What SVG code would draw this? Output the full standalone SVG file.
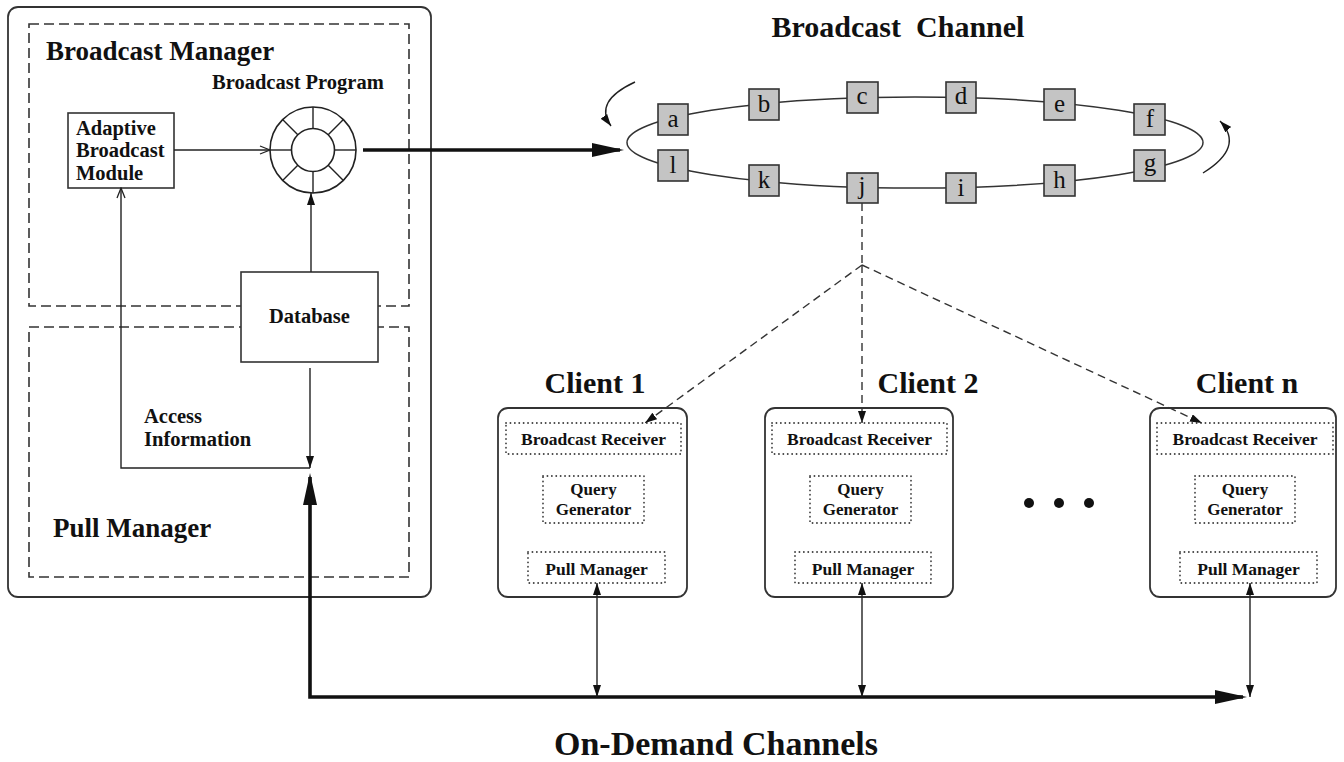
<svg xmlns="http://www.w3.org/2000/svg" width="1344" height="762" viewBox="0 0 1344 762">
  <style>
    text { font-family: "Liberation Serif", "Times New Roman", serif; font-weight: bold; fill: #111; }
    .title { font-size: 30px; }
    .big { font-size: 27px; }
    .mid { font-size: 20.5px; }
    .small { font-size: 17.5px; }
    .qg { font-size: 17px; }
    .item { font-size: 25px; font-weight: normal; text-anchor: middle; }
    .c { text-anchor: middle; }
    .frame { fill: #fff; stroke: #333; stroke-width: 1.8; }
    .dash { fill: none; stroke: #333; stroke-width: 1.6; stroke-dasharray: 10 5; }
    .dot { fill: none; stroke: #444; stroke-width: 1.8; stroke-dasharray: 0.1 4.3; stroke-linecap: round; }
    .box { fill: #fff; stroke: #333; stroke-width: 1.6; }
    .cell { fill: #c4c4c4; stroke: #333; stroke-width: 1.6; }
    .wire { fill: none; stroke: #222; stroke-width: 1.4; }
    .thick { fill: none; stroke: #111; stroke-width: 3.6; }
    .dashed { fill: none; stroke: #333; stroke-width: 1.4; stroke-dasharray: 8 5; }
  </style>
  <defs>
    <marker id="openHead" markerUnits="userSpaceOnUse" markerWidth="12" markerHeight="10" refX="11" refY="5" orient="auto">
      <path d="M1,1 L11,5 L1,9" fill="none" stroke="#222" stroke-width="1.3"/>
    </marker>
    <marker id="smallHead" markerUnits="userSpaceOnUse" markerWidth="12" markerHeight="8" refX="12" refY="4" orient="auto-start-reverse">
      <path d="M0,0 L12,4 L0,8 Z" fill="#111"/>
    </marker>
    <marker id="bigHead" markerUnits="userSpaceOnUse" markerWidth="32" markerHeight="14" refX="28" refY="7" orient="auto-start-reverse">
      <path d="M0,0 L32,7 L0,14 Z" fill="#111"/>
    </marker>
  </defs>

  <rect width="1344" height="762" fill="#fff"/>

  <!-- server side -->
  <g id="server">
    <rect class="frame" x="8" y="7" width="423" height="590" rx="10"/>
  </g>
  <g id="broadcast-manager">
    <rect class="dash" x="29" y="24" width="380" height="282"/>
    <text class="big" x="46" y="60">Broadcast Manager</text>
  </g>
  <g id="pull-manager">
    <rect class="dash" x="29" y="327" width="380" height="250"/>
    <text class="big" x="53" y="537">Pull Manager</text>
  </g>
  <g id="adaptive-module">
    <rect class="box" x="68" y="113" width="106" height="75"/>
    <text class="mid" x="76" y="135">Adaptive</text>
    <text class="mid" x="76" y="157">Broadcast</text>
    <text class="mid" x="76" y="180">Module</text>
  </g>
  <g id="broadcast-program">
    <text class="mid" x="212" y="89">Broadcast Program</text>
    <circle cx="313" cy="150" r="43" fill="#fff" stroke="#222" stroke-width="1.6"/>
    <circle cx="313" cy="150" r="21.5" fill="none" stroke="#222" stroke-width="1.6"/>
    <g stroke="#222" stroke-width="1.4">
      <line x1="334.5" y1="150" x2="356" y2="150"/>
      <line x1="291.5" y1="150" x2="270" y2="150"/>
      <line x1="313" y1="128.5" x2="313" y2="107"/>
      <line x1="313" y1="171.5" x2="313" y2="193"/>
      <line x1="328.2" y1="134.8" x2="343.4" y2="119.6"/>
      <line x1="297.8" y1="134.8" x2="282.6" y2="119.6"/>
      <line x1="328.2" y1="165.2" x2="343.4" y2="180.4"/>
      <line x1="297.8" y1="165.2" x2="282.6" y2="180.4"/>
    </g>
  </g>
  <g id="database">
    <rect class="box" x="241" y="272" width="137" height="90"/>
    <text class="mid c" x="309.5" y="323">Database</text>
  </g>
  <g id="access-label">
    <text class="mid" x="144" y="423">Access</text>
    <text class="mid" x="144" y="446">Information</text>
  </g>

  <!-- broadcast channel ring -->
  <g id="broadcast-channel">
    <text class="title c" x="898" y="37" xml:space="preserve">Broadcast  Channel</text>
    <ellipse cx="915" cy="142.5" rx="288" ry="45.5" fill="none" stroke="#333" stroke-width="1.5"/>
    <g id="item-a"><rect class="cell" x="658" y="104" width="30" height="31"/><text class="item" x="673" y="127">a</text></g>
    <g id="item-b"><rect class="cell" x="749" y="89" width="30" height="31"/><text class="item" x="764" y="112">b</text></g>
    <g id="item-c"><rect class="cell" x="847" y="82" width="31" height="31"/><text class="item" x="862" y="104">c</text></g>
    <g id="item-d"><rect class="cell" x="946" y="82" width="30" height="31"/><text class="item" x="961" y="104">d</text></g>
    <g id="item-e"><rect class="cell" x="1044" y="89" width="31" height="31"/><text class="item" x="1059.5" y="112">e</text></g>
    <g id="item-f"><rect class="cell" x="1134" y="104" width="31" height="31"/><text class="item" x="1150" y="127">f</text></g>
    <g id="item-g"><rect class="cell" x="1134" y="150" width="31" height="31"/><text class="item" x="1150" y="171">g</text></g>
    <g id="item-h"><rect class="cell" x="1044" y="165" width="31" height="31"/><text class="item" x="1059.5" y="188">h</text></g>
    <g id="item-i"><rect class="cell" x="946" y="173" width="30" height="30"/><text class="item" x="961" y="196">i</text></g>
    <g id="item-j"><rect class="cell" x="847" y="173" width="31" height="30"/><text class="item" x="862" y="194">j</text></g>
    <g id="item-k"><rect class="cell" x="749" y="165" width="30" height="31"/><text class="item" x="764" y="188">k</text></g>
    <g id="item-l"><rect class="cell" x="658" y="150" width="30" height="31"/><text class="item" x="673" y="173">l</text></g>
    <path class="wire" d="M635,82 Q593,101.5 611,126" marker-end="url(#smallHead)"/>
    <path class="wire" d="M1203,173 Q1245,147 1220,121" marker-end="url(#smallHead)"/>
  </g>

  <!-- clients -->
  <g id="client-1" transform="translate(498,0)">
    <text class="title c" x="97" y="393">Client 1</text>
    <rect class="frame" x="0" y="408" width="189" height="189" rx="10"/>
    <rect class="dot" x="8" y="423" width="175" height="31"/>
    <text class="small c" x="95.5" y="445">Broadcast Receiver</text>
    <rect class="dot" x="45" y="476" width="101" height="47"/>
    <text class="qg c" x="95.5" y="495">Query</text>
    <text class="qg c" x="95.5" y="515">Generator</text>
    <rect class="dot" x="30" y="552" width="137" height="31"/>
    <text class="small c" x="98.5" y="575">Pull Manager</text>
  </g>
  <g id="client-2" transform="translate(765,0)">
    <text class="title c" x="163" y="393">Client 2</text>
    <rect class="frame" x="0" y="408" width="188" height="189" rx="10"/>
    <rect class="dot" x="7" y="423" width="175" height="31"/>
    <text class="small c" x="94.5" y="445">Broadcast Receiver</text>
    <rect class="dot" x="45" y="476" width="101" height="47"/>
    <text class="qg c" x="95.5" y="495">Query</text>
    <text class="qg c" x="95.5" y="515">Generator</text>
    <rect class="dot" x="30" y="552" width="136" height="31"/>
    <text class="small c" x="98" y="575">Pull Manager</text>
  </g>
  <g id="client-n" transform="translate(1150,0)">
    <text class="title c" x="97" y="393">Client n</text>
    <rect class="frame" x="0" y="408" width="186" height="189" rx="10"/>
    <rect class="dot" x="7" y="423" width="176" height="31"/>
    <text class="small c" x="95" y="445">Broadcast Receiver</text>
    <rect class="dot" x="45" y="476" width="100" height="47"/>
    <text class="qg c" x="95" y="495">Query</text>
    <text class="qg c" x="95" y="515">Generator</text>
    <rect class="dot" x="30" y="552" width="137" height="31"/>
    <text class="small c" x="98.5" y="575">Pull Manager</text>
  </g>
  <g id="more-clients" fill="#111">
    <circle cx="1029" cy="503" r="5"/>
    <circle cx="1059" cy="503" r="5"/>
    <circle cx="1089" cy="503" r="5"/>
  </g>

  <g id="on-demand-label">
    <text class="c" x="716" y="755" style="font-size:34px">On-Demand Channels</text>
  </g>

  <!-- connectors -->
  <g id="connectors">
    <path class="wire" d="M174,150 L270,150" marker-end="url(#openHead)"/>
    <path class="wire" d="M311,272 L311,193" marker-end="url(#smallHead)"/>
    <path class="thick" d="M363,150 L620,150" marker-end="url(#bigHead)"/>
    <path class="wire" d="M310,368 L310,468" marker-end="url(#smallHead)"/>
    <path class="wire" d="M310,468 L121,468 L121,188" marker-end="url(#openHead)"/>
    <path class="thick" d="M310,477 L310,697 L1243,697" marker-start="url(#bigHead)" marker-end="url(#bigHead)"/>
    <path class="dashed" d="M862,203 L862,265"/>
    <path class="dashed" d="M862,265 L645,423" marker-end="url(#smallHead)"/>
    <path class="dashed" d="M862,265 L862,423" marker-end="url(#smallHead)"/>
    <path class="dashed" d="M862,265 L1202,423" marker-end="url(#smallHead)"/>
    <path class="wire" d="M597,583 L597,697" marker-start="url(#smallHead)" marker-end="url(#smallHead)"/>
    <path class="wire" d="M862,583 L862,697" marker-start="url(#smallHead)" marker-end="url(#smallHead)"/>
    <path class="wire" d="M1250,583 L1250,697" marker-start="url(#smallHead)" marker-end="url(#smallHead)"/>
  </g>
</svg>
